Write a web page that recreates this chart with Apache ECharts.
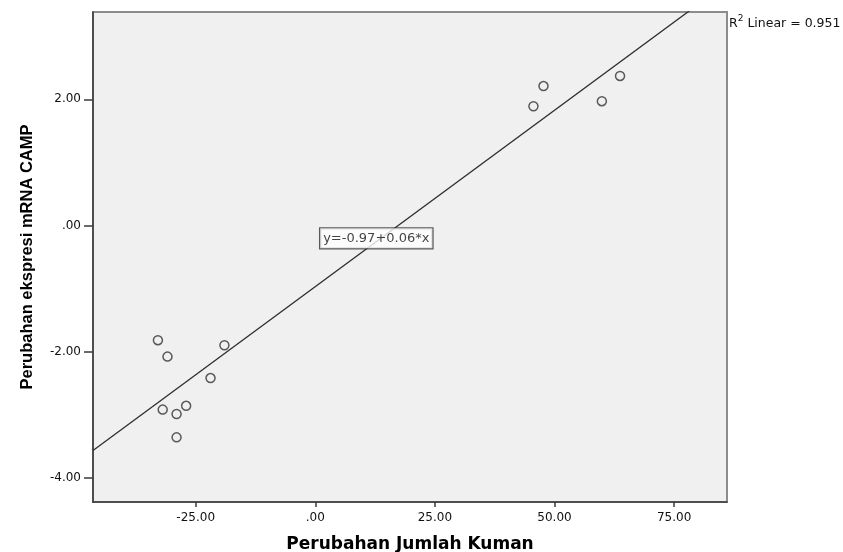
<!DOCTYPE html>
<html>
<head>
<meta charset="utf-8">
<script src="https://cdn.jsdelivr.net/npm/echarts@6/dist/echarts.min.js"></script>
<style>
  html, body { margin: 0; padding: 0; background: #ffffff; }
  #chart { width: 843px; height: 552px; }
</style>
</head>
<body>
<div id="chart"></div>
<script>
// Change in bacterial count vs. change in CAMP mRNA expression
const kumanChange = [-32.9, -30.9, -19.0, -21.9, -31.9, -27.0, -29.0, -29.0, 47.7, 45.6, 63.7, 59.9];
const mrnaChange  = [-1.82, -2.08, -1.90, -2.42, -2.92, -2.86, -2.99, -3.36, 2.21, 1.89, 2.37, 1.97];

const xTicks = [-25, 0, 25, 50, 75];
const xTickLabels = ['-25.00', '.00', '25.00', '50.00', '75.00'];
const yTicks = [-4, -2, 0, 2];
const yTickLabels = ['-4.00', '-2.00', '.00', '2.00'];

const rSquaredText = '0.951';

// Least-squares fit of mRNA change on bacterial count change
function linearFit(xs, ys) {
  const n = xs.length;
  const mx = xs.reduce((a, b) => a + b, 0) / n;
  const my = ys.reduce((a, b) => a + b, 0) / n;
  let sxy = 0, sxx = 0;
  for (let i = 0; i < n; i++) {
    sxy += (xs[i] - mx) * (ys[i] - my);
    sxx += (xs[i] - mx) * (xs[i] - mx);
  }
  const slope = sxy / sxx;
  return { slope: slope, intercept: my - slope * mx };
}
const fit = linearFit(kumanChange, mrnaChange);

const X_MIN = -46.47, X_MAX = 86.06;
const Y_MIN = -4.385, Y_MAX = 3.384;

const fitLine = [X_MIN, X_MAX].map(x => [x, fit.intercept + fit.slope * x]);
const equationText = 'y=' + fit.intercept.toFixed(2) + '+' + fit.slope.toFixed(2) + '*x';
const equationAnchor = [12.75, -0.205];

const points = kumanChange.map((x, i) => [x, mrnaChange[i]]);

const chart = echarts.init(document.getElementById('chart'));
const tickFont = 'DejaVu Sans';

chart.setOption({
  animation: false,
  backgroundColor: '#ffffff',
  grid: {
    left: 93, right: 116, top: 12, bottom: 50,
    outerBoundsMode: 'none',
    containLabel: false,
    show: true,
    backgroundColor: '#f0f0f0',
    borderColor: '#8c8c8c',
    borderWidth: 2
  },
  xAxis: {
    type: 'value',
    min: X_MIN, max: X_MAX,
    name: 'Perubahan Jumlah Kuman',
    nameLocation: 'middle',
    nameGap: 34,
    nameTextStyle: { fontFamily: 'DejaVu Sans', fontWeight: 'bold', fontSize: 17, color: '#000' },
    axisLine: { show: true, onZero: false, lineStyle: { color: '#3a3a3a', width: 1.5 } },
    axisTick: { show: true, length: 5, customValues: xTicks, lineStyle: { color: '#3a3a3a', width: 1.5 } },
    axisLabel: {
      customValues: xTicks,
      margin: 10,
      fontFamily: tickFont, fontSize: 12, color: '#111',
      formatter: v => xTickLabels[xTicks.indexOf(v)]
    },
    splitLine: { show: false }
  },
  yAxis: {
    type: 'value',
    min: Y_MIN, max: Y_MAX,
    name: 'Perubahan ekspresi mRNA CAMP',
    nameLocation: 'middle',
    nameGap: 57,
    nameTextStyle: { fontFamily: 'Liberation Sans', fontWeight: 'bold', fontSize: 16.5, color: '#000' },
    axisLine: { show: true, onZero: false, lineStyle: { color: '#3a3a3a', width: 1.5 } },
    axisTick: { show: true, length: 9, customValues: yTicks, lineStyle: { color: '#3a3a3a', width: 1.5 } },
    axisLabel: {
      customValues: yTicks,
      margin: 12,
      fontFamily: tickFont, fontSize: 12, color: '#111',
      formatter: v => yTickLabels[yTicks.indexOf(v)]
    },
    splitLine: { show: false }
  },
  series: [
    {
      type: 'line',
      data: fitLine,
      symbol: 'none',
      clip: true,
      lineStyle: { color: '#2e2e2e', width: 1.3 },
      silent: true,
      z: 2
    },
    {
      type: 'scatter',
      data: points,
      symbol: 'circle',
      symbolSize: 9,
      itemStyle: { color: 'rgba(0,0,0,0)', borderColor: '#333333', borderWidth: 1.5 },
      z: 3
    },
    {
      type: 'scatter',
      data: [equationAnchor],
      symbolSize: 0.01,
      itemStyle: { color: 'rgba(0,0,0,0)' },
      label: {
        show: true,
        position: 'inside',
        formatter: equationText,
        fontFamily: tickFont, fontSize: 13, color: '#111',
        backgroundColor: '#ffffff',
        borderColor: '#333333', borderWidth: 1.2,
        padding: [4, 3, 3, 3]
      },
      z: 4
    }
  ],
  graphic: [
    {
      type: 'text',
      left: 729, top: 14,
      style: {
        text: '{b|R}{s|2}{b| Linear = ' + rSquaredText + '}',
        rich: {
          b: { fontFamily: tickFont, fontSize: 12.5, fill: '#111', verticalAlign: 'bottom', lineHeight: 16 },
          s: { fontFamily: tickFont, fontSize: 9, fill: '#111', verticalAlign: 'top', lineHeight: 16 }
        }
      }
    }
  ]
});
</script>
</body>
</html>
